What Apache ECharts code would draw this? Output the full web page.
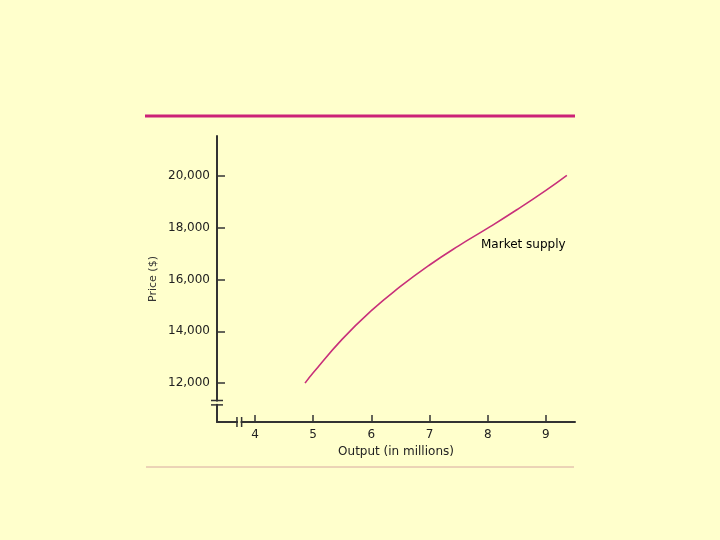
<!DOCTYPE html>
<html>
<head>
<meta charset="utf-8">
<script src="https://cdn.jsdelivr.net/npm/echarts@6/dist/echarts.min.js"></script>
<style>
html,body{margin:0;padding:0;background:#FFFFCC;}
#chart{width:720px;height:540px;}
</style>
</head>
<body>
<div id="chart"></div>
<script>
// Data
const outputMillions = [4.86, 5.0, 5.5, 6.0, 6.5, 7.0, 7.5, 8.0, 8.5, 9.0, 9.36];
const priceDollars = [12000, 12400, 13700, 14800, 15730, 16560, 17300, 17980, 18690, 19440, 20020];
const xTickValues = [4, 5, 6, 7, 8, 9];
const yTickValues = [12000, 14000, 16000, 18000, 20000];
const seriesName = 'Market supply';
const xAxisTitle = 'Output (in millions)';
const yAxisTitle = 'Price ($)';
const xBreak = [3.69, 3.77];
const yBreak = [11160, 11330];

const FONT = '"DejaVu Sans", sans-serif';
const BG = '#FFFFCC';
const AXIS = '#333333';

const chart = echarts.init(document.getElementById('chart'), null, {renderer: 'canvas'});
const points = outputMillions.map((x, i) => [x, priceDollars[i]]);

chart.setOption({
  backgroundColor: BG,
  animation: false,
  grid: {left: 217, right: 145, top: 136, bottom: 118},
  xAxis: {
    type: 'value', min: 3.347, max: 9.5,
    name: xAxisTitle, nameLocation: 'middle', nameGap: 22,
    nameTextStyle: {fontFamily: FONT, fontSize: 12, color: '#222'},
    axisLine: {show: true, lineStyle: {color: AXIS, width: 2}},
    axisTick: {show: true, inside: true, length: 7, lineStyle: {color: AXIS, width: 1.5}, customValues: xTickValues},
    axisLabel: {margin: 7, fontFamily: FONT, fontSize: 12, color: '#222', customValues: xTickValues},
    splitLine: {show: false}
  },
  yAxis: {
    type: 'value', min: 10500, max: 21538,
    name: yAxisTitle, nameLocation: 'middle', nameGap: 58,
    nameTextStyle: {fontFamily: FONT, fontSize: 11, color: '#333'},
    axisLine: {show: true, lineStyle: {color: AXIS, width: 2}},
    axisTick: {show: true, inside: true, length: 8, lineStyle: {color: AXIS, width: 1.5}, customValues: yTickValues},
    axisLabel: {margin: 7, fontFamily: FONT, fontSize: 12, color: '#222',
      customValues: yTickValues,
      formatter: v => v.toLocaleString('en-US')},
    splitLine: {show: false}
  },
  series: [{
    name: seriesName, type: 'line', data: points, smooth: 0.5,
    showSymbol: false, lineStyle: {color: '#C8307A', width: 1.6}
  }]
});

function addDecorations() {
  const g = [];
  // top rule and bottom rule
  g.push({type: 'line', shape: {x1: 145, y1: 116, x2: 575, y2: 116}, style: {stroke: '#CC2277', lineWidth: 3}});
  g.push({type: 'line', shape: {x1: 146, y1: 467, x2: 574, y2: 467}, style: {stroke: '#D8A8A0', lineWidth: 1}});
  // y break
  const yb0 = chart.convertToPixel({gridIndex: 0}, [3.347, yBreak[0]]);
  const yb1 = chart.convertToPixel({gridIndex: 0}, [3.347, yBreak[1]]);
  const ax = yb0[0];
  g.push({type: 'rect', shape: {x: ax - 2, y: yb1[1] + 1, width: 4, height: yb0[1] - yb1[1] - 2}, style: {fill: BG}, z: 100});
  g.push({type: 'line', shape: {x1: ax - 6, y1: yb0[1], x2: ax + 6, y2: yb0[1]}, style: {stroke: AXIS, lineWidth: 1.5}, z: 101});
  g.push({type: 'line', shape: {x1: ax - 6, y1: yb1[1], x2: ax + 6, y2: yb1[1]}, style: {stroke: AXIS, lineWidth: 1.5}, z: 101});
  // x break
  const xb0 = chart.convertToPixel({gridIndex: 0}, [xBreak[0], 10500]);
  const xb1 = chart.convertToPixel({gridIndex: 0}, [xBreak[1], 10500]);
  const ay = xb0[1];
  g.push({type: 'rect', shape: {x: xb0[0] + 1, y: ay - 2, width: xb1[0] - xb0[0] - 2, height: 4}, style: {fill: BG}, z: 100});
  g.push({type: 'line', shape: {x1: xb0[0], y1: ay - 5, x2: xb0[0], y2: ay + 5}, style: {stroke: AXIS, lineWidth: 1.5}, z: 101});
  g.push({type: 'line', shape: {x1: xb1[0], y1: ay - 5, x2: xb1[0], y2: ay + 5}, style: {stroke: AXIS, lineWidth: 1.5}, z: 101});
  // series label
  g.push({type: 'text', x: 481, y: 245, style: {text: seriesName, font: '12px ' + FONT, fill: '#000', verticalAlign: 'middle', align: 'left'}, z: 101});
  chart.setOption({graphic: g});
}
addDecorations();
</script>
</body>
</html>
